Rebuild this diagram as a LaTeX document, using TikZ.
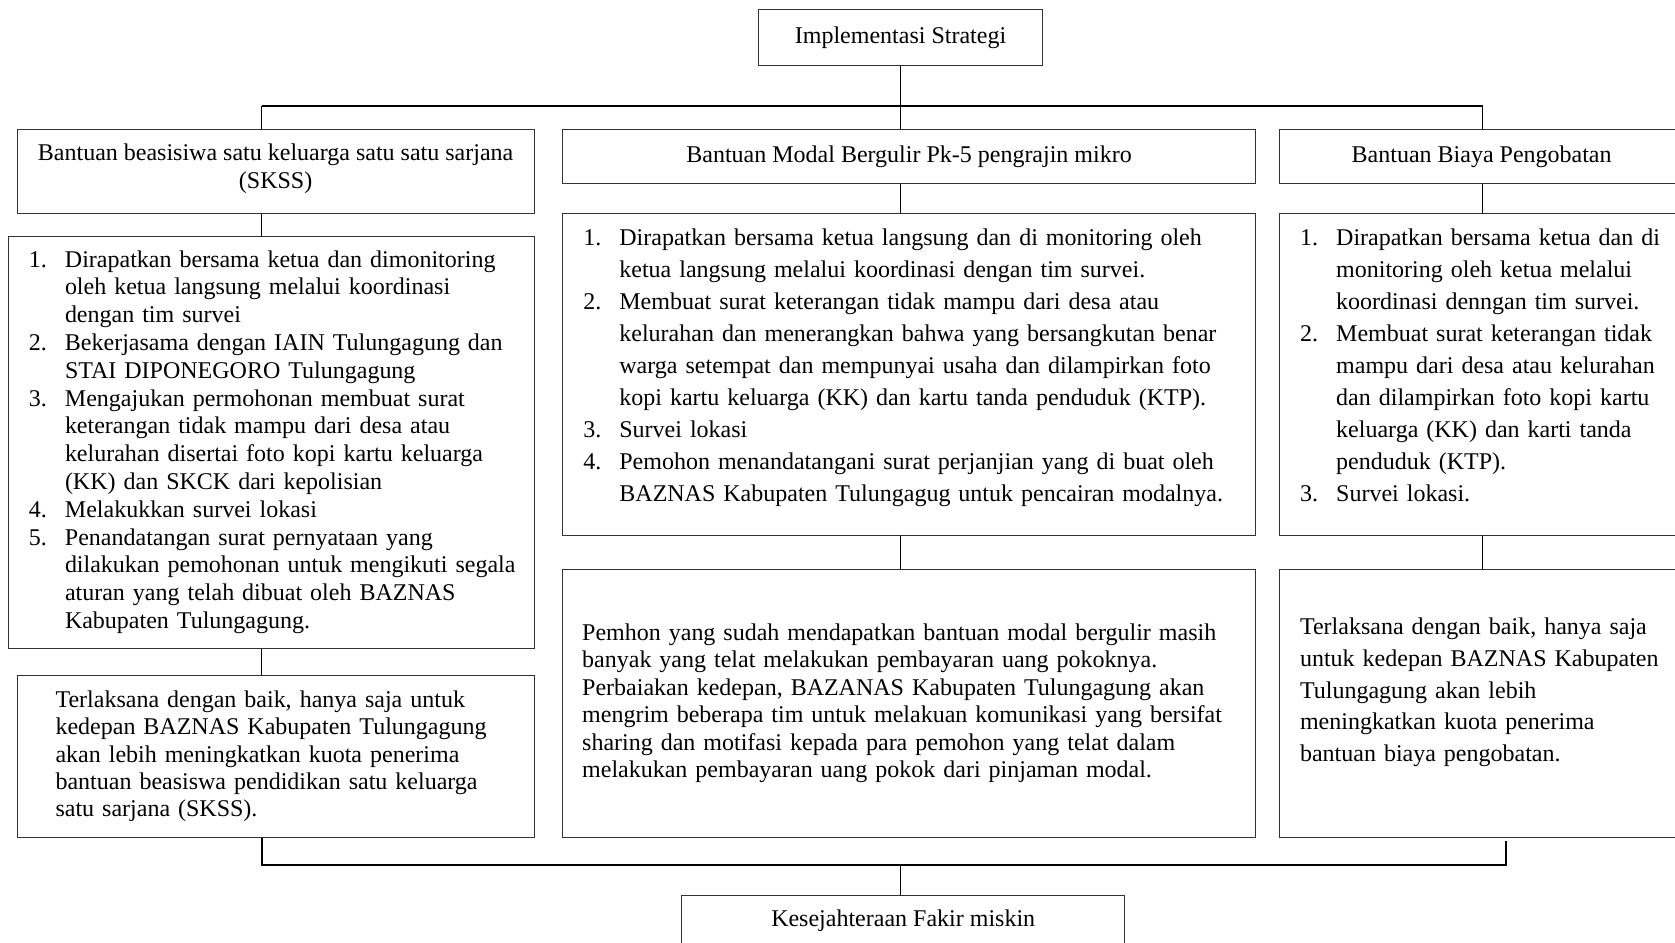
\documentclass[tikz,border=0pt]{standalone}
\usepackage{fontspec}
\setmainfont{Liberation Serif}
\newlength{\ux}
\setlength{\ux}{0.5342pt}
\newcommand{\steps}[1]{\begin{tabular}{@{}l@{\hspace{17\ux}}l@{}}#1\end{tabular}}
\newcommand{\lines}[1]{\begin{tabular}{@{}l@{}}#1\end{tabular}}
\tikzset{
  box/.style={draw=black!80, line width=0.5pt, rectangle, inner sep=2pt, font=\fontsize{12}{13.9}\selectfont},
  link/.style={line width=0.7pt},
  bus/.style={line width=1pt}
}

\begin{document}
\begin{tikzpicture}[x=0.5342pt, y=-0.5342pt]
	\useasboundingbox (0,0) rectangle (1568,882);

	\node[box, minimum width=266\ux, minimum height=52\ux] (impl) at (843,35) {Implementasi Strategi};

	\node[box, minimum width=484\ux, minimum height=79\ux, align=center] (skss) at (258,160.5) {\begin{tabular}{@{}c@{}}Bantuan beasisiwa satu keluarga satu satu sarjana\\(SKSS)\\[4\ux]\end{tabular}};
	\node[box, minimum width=648\ux, minimum height=51\ux] (modal) at (851,146.5) {Bantuan Modal Bergulir Pk-5 pengrajin mikro};
	\node[box, minimum width=378\ux, minimum height=51\ux] (peng) at (1387,146.5) {Bantuan Biaya Pengobatan};

	\node[box, minimum width=492\ux, minimum height=386\ux, text width=454\ux, align=left] (lst1) at (254,414) {\steps{
		1. & Dirapatkan bersama ketua dan dimonitoring\\
		   & oleh ketua langsung melalui koordinasi\\
		   & dengan tim survei\\
		2. & Bekerjasama dengan IAIN Tulungagung dan\\
		   & STAI DIPONEGORO Tulungagung\\
		3. & Mengajukan permohonan membuat surat\\
		   & keterangan tidak mampu dari desa atau\\
		   & kelurahan disertai foto kopi kartu keluarga\\
		   & (KK) dan SKCK dari kepolisian\\
		4. & Melakukkan survei lokasi\\
		5. & Penandatangan surat pernyataan yang\\
		   & dilakukan pemohonan untuk mengikuti segala\\
		   & aturan yang telah dibuat oleh BAZNAS\\
		   & Kabupaten Tulungagung.}};
	\node[box, font=\fontsize{12}{16}\selectfont, minimum width=648\ux, minimum height=301\ux, text width=610\ux, align=left] (lst2) at (851,350.5) {\steps{
		1. & Dirapatkan bersama ketua langsung dan di monitoring oleh\\
		   & ketua langsung melalui koordinasi dengan tim survei.\\
		2. & Membuat surat keterangan tidak mampu dari desa atau\\
		   & kelurahan dan menerangkan bahwa yang bersangkutan benar\\
		   & warga setempat dan mempunyai usaha dan dilampirkan foto\\
		   & kopi kartu keluarga (KK) dan kartu tanda penduduk (KTP).\\
		3. & Survei lokasi\\
		4. & Pemohon menandatangani surat perjanjian yang di buat oleh\\
		   & BAZNAS Kabupaten Tulungagug untuk pencairan modalnya.\\[14\ux]}};
	\node[box, font=\fontsize{12}{16}\selectfont, minimum width=378\ux, minimum height=301\ux, text width=340\ux, align=left] (lst3) at (1387,350.5) {\steps{
		1. & Dirapatkan bersama ketua dan di\\
		   & monitoring oleh ketua melalui\\
		   & koordinasi denngan tim survei.\\
		2. & Membuat surat keterangan tidak\\
		   & mampu dari desa atau kelurahan\\
		   & dan dilampirkan foto kopi kartu\\
		   & keluarga (KK) dan karti tanda\\
		   & penduduk (KTP).\\
		3. & Survei lokasi.\\[14\ux]}};

	\node[box, font=\fontsize{12}{13.6}\selectfont, minimum width=484\ux, minimum height=152\ux, text width=412\ux, align=left] (res1) at (258,708) {Terlaksana dengan baik, hanya saja untuk\\kedepan BAZNAS Kabupaten Tulungagung\\akan lebih meningkatkan kuota penerima\\bantuan beasiswa pendidikan satu keluarga\\satu sarjana (SKSS).};
	\node[box, font=\fontsize{12}{13.7}\selectfont, minimum width=648\ux, minimum height=251\ux, text width=612\ux, align=left] (res2) at (851,658.5) {\lines{Pemhon yang sudah mendapatkan bantuan modal bergulir masih\\banyak yang telat melakukan pembayaran uang pokoknya.\\Perbaiakan kedepan, BAZANAS Kabupaten Tulungagung akan\\mengrim beberapa tim untuk melakuan komunikasi yang bersifat\\sharing dan motifasi kepada para pemohon yang telat dalam\\melakukan pembayaran uang pokok dari pinjaman modal.}};
	\node[box, font=\fontsize{12}{15.8}\selectfont, minimum width=378\ux, minimum height=251\ux, text width=340\ux, align=left] (res3) at (1387,658.5) {\lines{Terlaksana dengan baik, hanya saja\\untuk kedepan BAZNAS Kabupaten\\Tulungagung akan lebih\\meningkatkan kuota penerima\\bantuan biaya pengobatan.\\[22\ux]}};

	\node[box, minimum width=415\ux, minimum height=48\ux] (kes) at (845.5,862) {Kesejahteraan Fakir miskin};

	\coordinate (ta) at (245,99);
	\coordinate (tc) at (1388,99);
	\coordinate (ba) at (245,810);
	\coordinate (bc) at (1410,810);
	\coordinate (ec) at (1410,787);

	\draw[bus] (ta) -- (tc);
	\draw[link] (impl.south) -- (impl.south |- ta);
	\draw[link] (ta) -- (ta |- skss.north);
	\draw[link] (impl.south |- ta) -- (impl.south |- modal.north);
	\draw[link] (tc) -- (tc |- peng.north);
	\draw[link] (ta |- skss.south) -- (ta |- lst1.north);
	\draw[link] (ta |- lst1.south) -- (ta |- res1.north);
	\draw[link] (impl.south |- modal.south) -- (impl.south |- lst2.north);
	\draw[link] (impl.south |- lst2.south) -- (impl.south |- res2.north);
	\draw[link] (tc |- peng.south) -- (tc |- lst3.north);
	\draw[link] (tc |- lst3.south) -- (tc |- res3.north);
	\draw[bus] (ta |- res1.south) -- (ba) -- (bc) -- (ec);
	\draw[link] (impl.south |- ba) -- (impl.south |- kes.north);
\end{tikzpicture}
\end{document}
